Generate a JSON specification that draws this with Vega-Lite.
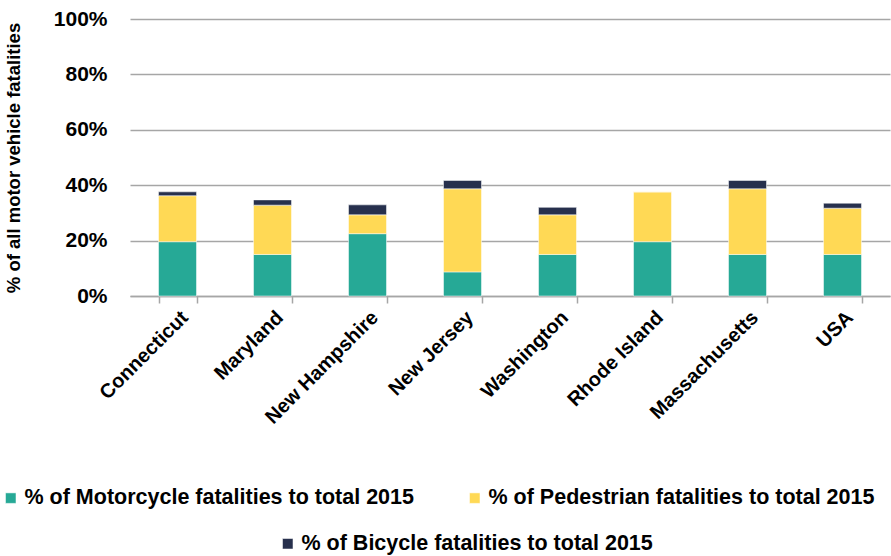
{
  "$schema": "https://vega.github.io/schema/vega-lite/v6.json",
  "width": 760,
  "height": 277,
  "padding": {"left": 0, "top": 8, "right": 1, "bottom": 0},
  "background": "white",
  "data": {
    "values": [
      {"state": "Connecticut", "series": "% of Motorcycle fatalities to total 2015", "value": 19.6, "order": 1},
      {"state": "Connecticut", "series": "% of Pedestrian fatalities to total 2015", "value": 16.6, "order": 2},
      {"state": "Connecticut", "series": "% of Bicycle fatalities to total 2015", "value": 1.4, "order": 3},
      {"state": "Maryland", "series": "% of Motorcycle fatalities to total 2015", "value": 15.0, "order": 1},
      {"state": "Maryland", "series": "% of Pedestrian fatalities to total 2015", "value": 17.8, "order": 2},
      {"state": "Maryland", "series": "% of Bicycle fatalities to total 2015", "value": 1.9, "order": 3},
      {"state": "New Hampshire", "series": "% of Motorcycle fatalities to total 2015", "value": 22.5, "order": 1},
      {"state": "New Hampshire", "series": "% of Pedestrian fatalities to total 2015", "value": 6.8, "order": 2},
      {"state": "New Hampshire", "series": "% of Bicycle fatalities to total 2015", "value": 3.6, "order": 3},
      {"state": "New Jersey", "series": "% of Motorcycle fatalities to total 2015", "value": 8.7, "order": 1},
      {"state": "New Jersey", "series": "% of Pedestrian fatalities to total 2015", "value": 30.0, "order": 2},
      {"state": "New Jersey", "series": "% of Bicycle fatalities to total 2015", "value": 3.0, "order": 3},
      {"state": "Washington", "series": "% of Motorcycle fatalities to total 2015", "value": 15.0, "order": 1},
      {"state": "Washington", "series": "% of Pedestrian fatalities to total 2015", "value": 14.3, "order": 2},
      {"state": "Washington", "series": "% of Bicycle fatalities to total 2015", "value": 2.7, "order": 3},
      {"state": "Rhode Island", "series": "% of Motorcycle fatalities to total 2015", "value": 19.6, "order": 1},
      {"state": "Rhode Island", "series": "% of Pedestrian fatalities to total 2015", "value": 18.0, "order": 2},
      {"state": "Rhode Island", "series": "% of Bicycle fatalities to total 2015", "value": 0, "order": 3},
      {"state": "Massachusetts", "series": "% of Motorcycle fatalities to total 2015", "value": 15.0, "order": 1},
      {"state": "Massachusetts", "series": "% of Pedestrian fatalities to total 2015", "value": 23.7, "order": 2},
      {"state": "Massachusetts", "series": "% of Bicycle fatalities to total 2015", "value": 3.0, "order": 3},
      {"state": "USA", "series": "% of Motorcycle fatalities to total 2015", "value": 15.0, "order": 1},
      {"state": "USA", "series": "% of Pedestrian fatalities to total 2015", "value": 16.7, "order": 2},
      {"state": "USA", "series": "% of Bicycle fatalities to total 2015", "value": 1.8, "order": 3}
    ]
  },
  "encoding": {
    "x": {
      "field": "state",
      "type": "nominal",
      "sort": null,
      "scale": {"paddingInner": 0.6, "paddingOuter": 0.3},
      "axis": {
        "title": null,
        "labelAngle": -45,
        "labelFont": "Liberation Sans",
        "labelFontWeight": "bold",
        "labelFontSize": 20,
        "labelColor": "#000000",
        "labelPadding": 4,
        "domainColor": "#a6a6a6",
        "domainWidth": 1.5,
        "tickColor": "#a6a6a6",
        "tickWidth": 1.5,
        "tickSize": 7,
        "tickBand": "extent",
        "ticks": true
      }
    }
  },
  "layer": [
    {
      "transform": [{"filter": "datum.series != '% of Bicycle fatalities to total 2015'"}],
      "mark": {"type": "bar", "width": 38},
      "encoding": {
        "y": {
          "field": "value",
          "type": "quantitative",
          "stack": "zero",
          "scale": {"domain": [0, 100]},
          "axis": {
            "title": "% of all motor vehicle fatalities",
            "titleFont": "Liberation Sans",
            "titleFontWeight": "bold",
            "titleFontSize": 18.5,
            "titleColor": "#000000",
            "titlePadding": 30,
            "values": [0, 20, 40, 60, 80, 100],
            "labelExpr": "datum.value + '%'",
            "labelFont": "Liberation Sans",
            "labelFontWeight": "bold",
            "labelFontSize": 21,
            "labelColor": "#000000",
            "labelPadding": 23,
            "grid": true,
            "gridColor": "#a6a6a6",
            "gridWidth": 1.5,
            "domain": false,
            "ticks": false
          }
        },
        "color": {
          "field": "series",
          "type": "nominal",
          "scale": {
            "domain": ["% of Motorcycle fatalities to total 2015", "% of Pedestrian fatalities to total 2015"],
            "range": ["#26a996", "#ffd955"]
          },
          "legend": {
            "title": null,
            "orient": "none",
            "legendX": -130,
            "legendY": 468,
            "direction": "horizontal",
            "columns": 2,
            "columnPadding": 50,
            "symbolType": "square",
            "symbolSize": 110,
            "symbolStrokeWidth": 0,
            "labelFont": "Liberation Sans",
            "labelFontWeight": "bold",
            "labelFontSize": 21.5,
            "labelColor": "#000000",
            "labelLimit": 500,
            "labelOffset": 3
          }
        },
        "order": {"field": "order", "type": "quantitative"}
      }
    },
    {
      "transform": [
        {"stack": "value", "groupby": ["state"], "sort": [{"field": "order", "order": "ascending"}], "as": ["y0", "y1"]},
        {"filter": "datum.series == '% of Bicycle fatalities to total 2015'"}
      ],
      "mark": {"type": "bar", "width": 38},
      "encoding": {
        "y": {
          "field": "y1",
          "type": "quantitative",
          "scale": {"domain": [0, 100]},
          "axis": {
            "title": "% of all motor vehicle fatalities",
            "titleFont": "Liberation Sans",
            "titleFontWeight": "bold",
            "titleFontSize": 18.5,
            "titleColor": "#000000",
            "titlePadding": 30,
            "values": [0, 20, 40, 60, 80, 100],
            "labelExpr": "datum.value + '%'",
            "labelFont": "Liberation Sans",
            "labelFontWeight": "bold",
            "labelFontSize": 21,
            "labelColor": "#000000",
            "labelPadding": 23,
            "grid": true,
            "gridColor": "#a6a6a6",
            "gridWidth": 1.5,
            "domain": false,
            "ticks": false
          }
        },
        "y2": {"field": "y0"},
        "fill": {
          "field": "series",
          "type": "nominal",
          "scale": {
            "domain": ["% of Bicycle fatalities to total 2015"],
            "range": ["#27304d"]
          },
          "legend": {
            "title": null,
            "orient": "none",
            "legendX": 147,
            "legendY": 514,
            "symbolType": "square",
            "symbolSize": 110,
            "symbolStrokeWidth": 0,
            "labelFont": "Liberation Sans",
            "labelFontWeight": "bold",
            "labelFontSize": 21.5,
            "labelColor": "#000000",
            "labelLimit": 500,
            "labelOffset": 3
          }
        }
      }
    }
  ],
  "config": {
    "view": {"stroke": null},
    "bar": {"stroke": "white", "strokeWidth": 0.5}
  }
}
